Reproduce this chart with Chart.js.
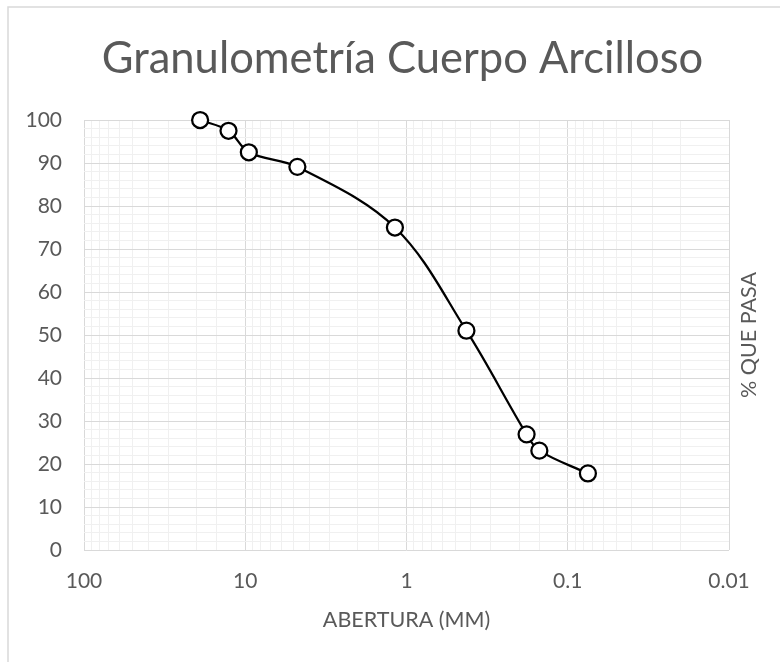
<!DOCTYPE html>
<html>
<head>
<meta charset="utf-8">
<script src="https://cdn.jsdelivr.net/npm/chart.js@4/dist/chart.umd.min.js"></script>
<style>
  html, body { margin: 0; padding: 0; background: #ffffff; }
  #wrap { position: relative; width: 780px; height: 662px; }
</style>
</head>
<body>
<div id="wrap"><canvas id="chart" width="780" height="662"></canvas></div>
<script>
// Sieve openings (mm) and percent passing
const openingsMm = [19.05, 12.7, 9.5, 4.75, 1.18, 0.425, 0.18, 0.15, 0.075];
const percentPassing = [100, 97.5, 92.5, 89.1, 75, 51, 26.9, 23.1, 17.8];

// Axis tick labels
const xTickValues = [100, 10, 1, 0.1, 0.01];
const xTickLabels = ['100', '10', '1', '0.1', '0.01'];
const yTickValues = [0, 10, 20, 30, 40, 50, 60, 70, 80, 90, 100];
const yTickLabels = ['0', '10', '20', '30', '40', '50', '60', '70', '80', '90', '100'];

const chartTitle = 'Granulometría Cuerpo Arcilloso';
const xAxisTitle = 'ABERTURA (MM)';
const yAxisTitle = '% QUE PASA';

const FONT = 'Lato, "Open Sans", sans-serif';
const TEXT = '#595959';
const MAJOR = '#d9d9d9';
const MINOR = '#f0f0f0';

const isDecade = v => Math.abs(Math.log10(v) - Math.round(Math.log10(v))) < 1e-6;
const xLabelFor = v => {
  const i = xTickValues.findIndex(t => Math.abs(Math.log10(t) - Math.log10(v)) < 1e-6);
  return i >= 0 ? xTickLabels[i] : '';
};
const yLabelFor = v => {
  const i = yTickValues.findIndex(t => Math.abs(t - v) < 1e-6);
  return i >= 0 ? yTickLabels[i] : '';
};

// Frame line and the free-standing titles
const decorations = {
  id: 'decorations',
  beforeDraw(chart) {
    const ctx = chart.ctx;
    ctx.save();
    ctx.strokeStyle = MAJOR;
    ctx.lineWidth = 1.5;
    ctx.beginPath();
    ctx.moveTo(8, 662);
    ctx.lineTo(8, 7);
    ctx.lineTo(780, 7);
    ctx.stroke();
    ctx.restore();
  },
  afterDraw(chart) {
    const ctx = chart.ctx;
    const a = chart.chartArea;
    ctx.save();
    ctx.fillStyle = TEXT;
    ctx.textAlign = 'center';
    ctx.textBaseline = 'alphabetic';
    ctx.font = '43.5px ' + FONT;
    ctx.fillText(chartTitle, 402.5, 73);
    ctx.font = '21.5px ' + FONT;
    ctx.fillText(xAxisTitle, (a.left + a.right) / 2, 627);
    ctx.translate(756, (a.top + a.bottom) / 2);
    ctx.rotate(-Math.PI / 2);
    ctx.fillText(yAxisTitle, 0, 0);
    ctx.restore();
  }
};

new Chart(document.getElementById('chart'), {
  type: 'line',
  data: {
    datasets: [{
      data: openingsMm.map((x, i) => ({ x, y: percentPassing[i] })),
      borderColor: '#000000',
      borderWidth: 2.25,
      tension: 0.35,
      pointRadius: 8,
      pointHoverRadius: 8,
      pointBorderWidth: 2.25,
      pointBorderColor: '#000000',
      pointBackgroundColor: '#ffffff',
      clip: false
    }]
  },
  options: {
    responsive: false,
    animation: false,
    events: [],
    layout: { padding: { top: 120, left: 0, right: 51, bottom: 0 } },
    plugins: {
      legend: { display: false },
      title: { display: false },
      tooltip: { enabled: false }
    },
    scales: {
      x: {
        type: 'logarithmic',
        reverse: true,
        min: 0.01,
        max: 100,
        afterFit(scale) { scale.height = 112; },
        border: { display: false },
        grid: {
          drawTicks: false,
          color: ctx => (ctx.tick && isDecade(ctx.tick.value)) ? MAJOR : MINOR,
          lineWidth: 1
        },
        ticks: {
          autoSkip: false,
          maxRotation: 0,
          minRotation: 0,
          padding: 19,
          color: TEXT,
          font: { family: FONT, size: 21 },
          callback: v => xLabelFor(v)
        }
      },
      y: {
        type: 'linear',
        min: 0,
        max: 100,
        afterFit(scale) { scale.width = 84; },
        border: { display: false },
        grid: {
          drawTicks: false,
          color: ctx => (ctx.tick && Math.round(ctx.tick.value) % 10 === 0) ? MAJOR : MINOR,
          lineWidth: 1
        },
        ticks: {
          stepSize: 2,
          maxTicksLimit: 60,
          autoSkip: false,
          padding: 22,
          color: TEXT,
          font: { family: FONT, size: 21 },
          callback: v => yLabelFor(v)
        }
      }
    }
  },
  plugins: [decorations]
});
</script>
</body>
</html>
